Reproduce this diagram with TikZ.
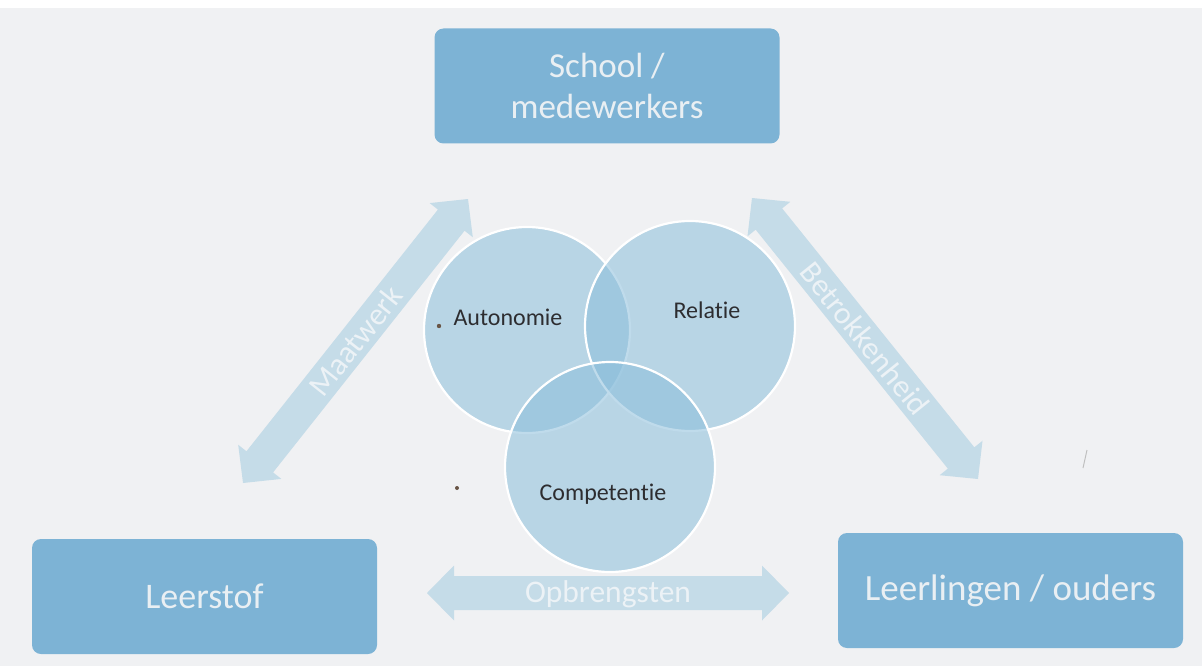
\documentclass[tikz,border=0pt]{standalone}
\usepackage{fontspec}
\setmainfont{Carlito}[Ligatures=NoCommon]
\usetikzlibrary{calc}
\definecolor{paper}{RGB}{240,241,243}
\definecolor{boxblue}{RGB}{125,179,213}
\definecolor{boxtext}{RGB}{233,239,243}
\definecolor{circblue}{RGB}{139,190,219}
\definecolor{arrowblue}{RGB}{197,220,232}
\definecolor{arrowtext}{RGB}{236,242,246}
\definecolor{darktext}{RGB}{45,45,48}
\definecolor{speck}{RGB}{105,85,70}
\newcommand{\dblarrow}[2]{%
  \coordinate (hA) at ($(#1)!27pt!(#2)$);
  \coordinate (hB) at ($(#2)!27pt!(#1)$);
  \fill[arrowfill] (#1) -- ($(hA)!27.5pt!90:(#2)$) -- ($(hA)!17pt!90:(#2)$)
    -- ($(hB)!17pt!-90:(#1)$) -- ($(hB)!27.5pt!-90:(#1)$) -- (#2)
    -- ($(hB)!27.5pt!90:(#1)$) -- ($(hB)!17pt!90:(#1)$)
    -- ($(hA)!17pt!-90:(#2)$) -- ($(hA)!27.5pt!-90:(#2)$) -- cycle;
}
\tikzset{
  box/.style={fill=boxblue, rounded corners=9pt, minimum width=345pt,
    minimum height=115pt, inner sep=0pt, text=boxtext, align=center},
  venn/.style={circle, fill=circblue, fill opacity=0.55, draw=white,
    draw opacity=1, line width=2.2pt, inner sep=0pt},
  venntext/.style={text=darktext, font=\fontsize{24}{28}\selectfont, inner sep=0pt},
  arrowfill/.style={fill=arrowblue},
  arrowlabel/.style={text=arrowtext, font=\fontsize{31.5}{36}\selectfont, inner sep=0pt},
}
\begin{document}
\begin{tikzpicture}[x=1pt,y=-1pt]
\useasboundingbox (0,0) rectangle (1202,666);
\fill[paper] (0,0) rectangle (1202,666);
\fill[white] (0,0) rectangle (1202,8);

% boxes
\node[box, font=\fontsize{35}{41}\selectfont] (school) at (607,86) {School /\\medewerkers};
\node[box, font=\fontsize{36}{42}\selectfont] (leerstof) at (204.5,596.5) {Leerstof};
\node[box, font=\fontsize{37}{42}\selectfont] (leerlingen) at (1010.5,590.5) {Leerlingen / ouders};

% arrows
\coordinate (m1) at (243,483);
\coordinate (m2) at (468,199);
\coordinate (b1) at (752,198);
\coordinate (b2) at (978,479);
\coordinate (o1) at (427,593);
\coordinate (o2) at (789,593);
\dblarrow{m1}{m2}
\dblarrow{b1}{b2}
\dblarrow{o1}{o2}
\node[arrowlabel, rotate=51.6] (maatwerk) at ($(m1)!0.5!(m2)$) {Maatwerk};
\node[arrowlabel, rotate=-51.2] (betrokken) at ($(b1)!0.5!(b2)$) {Betrokkenheid};
\node[arrowlabel] (opbrengsten) at ($(o1)!0.5!(o2)+(0,1)$) {Opbrengsten};

% venn circles
\node[venn, minimum size=206pt] (cA) at (527,330) {};
\node[venn, minimum size=210pt] (cR) at (690,326) {};
\node[venn, minimum size=210pt] (cC) at (610,467) {};
\node[venntext] (tA) at (508,317) {Autonomie};
\node[venntext] (tR) at (707,310) {Relatie};
\node[venntext] (tC) at (603,494) {Competentie};

% scan specks
\fill[speck] (439,326) circle (2.2pt);
\fill[speck] (457,488) circle (2pt);
\draw[black!25, line width=1pt] (1083,468) -- (1087,450);
\end{tikzpicture}
\end{document}
